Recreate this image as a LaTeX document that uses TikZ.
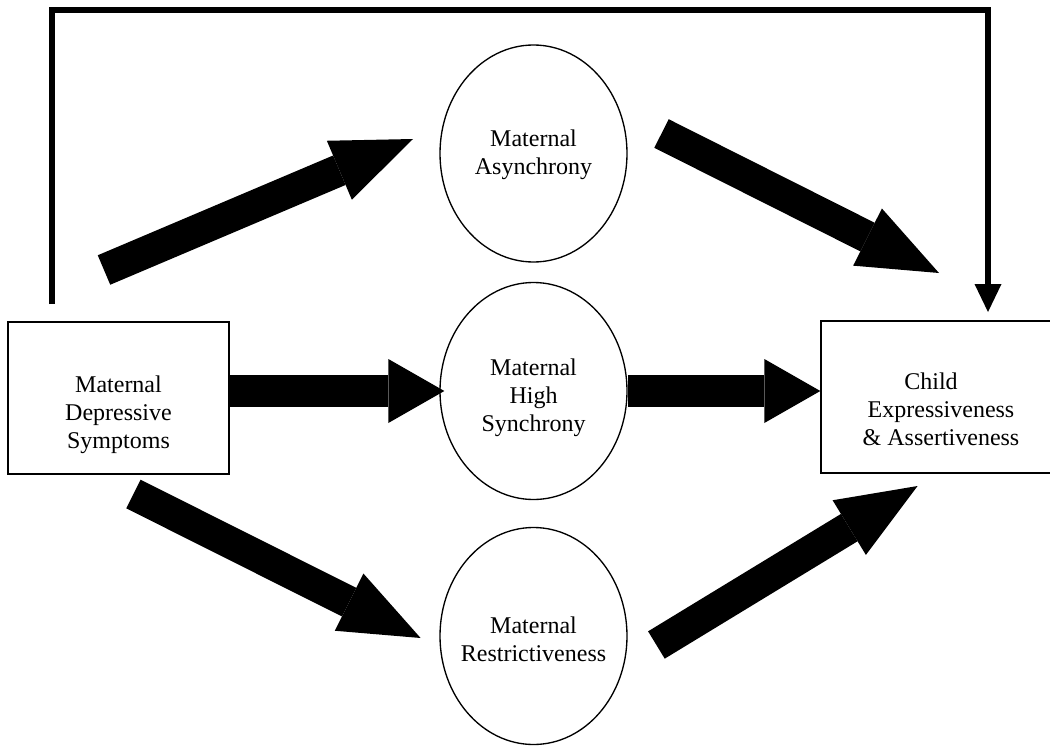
\documentclass[tikz,border=0pt]{standalone}
\usepackage{fontspec}
\setmainfont{Liberation Serif}
\usetikzlibrary{shapes.geometric,arrows.meta}
\tikzset{konstrukt/.style={ellipse, draw=black, line width=1pt, minimum width=140.25pt, minimum height=162.75pt, inner sep=0pt},
	kasten/.style={rectangle, draw=black, line width=1pt, minimum width=165.75pt, minimum height=114pt, inner sep=0pt},
	beschr/.style={align=center, font=\fontsize{18}{21}\selectfont, inner sep=0pt},
	block/.style={line width=24pt, -{Triangle[length=60pt, width=48pt, line width=0pt]}},
	blockkurz/.style={line width=24pt, -{Triangle[length=42pt, width=48pt, line width=0pt]}},
	rueck/.style={line width=4.5pt, -{Triangle[length=21pt, width=20.25pt, line width=0pt]}}}

\begin{document}
\begin{tikzpicture}[x=0.75pt, y=-0.75pt]
	\useasboundingbox (0,0) rectangle (1050,746);
	%Knoten
	\node[kasten] (dep) at (118.5,398) {};
	\node[kasten, minimum width=180pt] (child) at (941,397) {};
	\node[konstrukt] (asyn) at (533.5,153.5) {};
	\node[konstrukt] (high) at (533.5,391) {};
	\node[konstrukt] (restr) at (533.5,636) {};
	%Texte
	\node[beschr] (depT) at ([yshift=-12.5pt]dep.center) {Maternal\\Depressive\\Symptoms};
	\node[beschr] (childT) at ([yshift=-9pt]child.center) {Child\hspace*{15pt}\\Expressiveness\\\& Assertiveness};
	\node[beschr] (asynT) at ([yshift=-1.3pt]asyn.center) {Maternal\\Asynchrony};
	\node[beschr] (highT) at ([yshift=-5pt]high.center) {Maternal\\High\\Synchrony};
	\node[beschr] (restrT) at ([yshift=-2.7pt]restr.center) {Maternal\\Restrictiveness};
	%Pfeile
	\coordinate (a1) at (104,270);
	\coordinate (a2) at (413,139);
	\coordinate (b1) at (661.5,133.5);
	\coordinate (b2) at (939,273);
	\coordinate (c1) at (133.4,494);
	\coordinate (c2) at (420.6,638);
	\coordinate (d1) at (656.4,645);
	\coordinate (d2) at (917.6,486);
	\draw[block] (a1) -- (a2);
	\draw[block] (b1) -- (b2);
	\draw[block] (c1) -- (c2);
	\draw[block] (d1) -- (d2);
	\draw[blockkurz, shorten >=-3.75pt] (dep.east |- high.west) -- (high.west);
	\draw[blockkurz] (high.east) -- (child.west |- high.east);
	%Rueckpfad
	\coordinate (r1) at (52,304);
	\coordinate (r2) at (988,312);
	\draw[rueck] (r1) |- (520,10) -| (r2);
\end{tikzpicture}
\end{document}
